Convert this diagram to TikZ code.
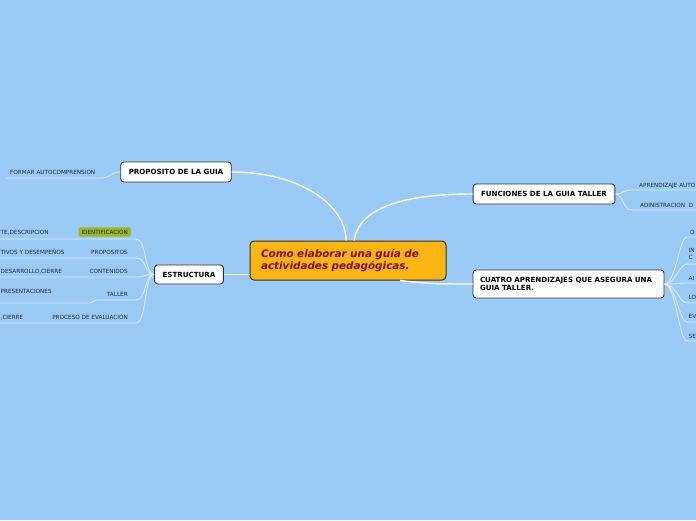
\documentclass[tikz,border=0pt]{standalone}
\usepackage{fontspec}
\setmainfont{DejaVu Sans}
\usetikzlibrary{positioning, calc}
\definecolor{sky}{RGB}{154,202,246}
\definecolor{gold}{RGB}{252,182,20}
\definecolor{wine}{RGB}{128,10,10}
\definecolor{ink}{RGB}{30,45,62}
\definecolor{olive}{RGB}{158,182,32}

\begin{document}
\begin{tikzpicture}[x=1pt, y=-1pt,
    box/.style={draw=black!80, fill=white, rounded corners=3pt, line width=0.9pt,
                minimum height=20pt, inner xsep=8pt, align=left,
                font=\bfseries\fontsize{7.1}{8.6}\selectfont},
    topicbox/.style={draw=black!80, fill=gold, rounded corners=4pt, line width=1pt,
                minimum height=39pt, text width=174pt, inner xsep=11pt, align=left,
                text=wine, font=\bfseries\itshape\fontsize{10.4}{11.5}\selectfont},
    leaf/.style={inner sep=0pt, text=ink, font=\fontsize{5.7}{7}\selectfont},
    hilite/.style={fill=olive, rounded corners=2pt, inner xsep=3pt, inner ysep=2.5pt},
    branch/.style={draw=white, line width=1.4pt},
    twig/.style={draw=white, draw opacity=0.6, line width=0.9pt},
]
\fill[sky, use as bounding box] (0,0) rectangle (696,520);

\node[topicbox] (topic) at (348,260.5) {Como elaborar una guía de\\actividades pedagógicas.};
\node[box] (purpose) at (176,172) {PROPOSITO DE LA GUIA};
\node[box, minimum height=19pt] (struct) at (189,274.5) {ESTRUCTURA};
\node[box] (roles) at (544,194) {FUNCIONES DE LA GUIA TALLER};
\node[box, text width=177pt, inner xsep=7pt, minimum height=28pt] (learn) at (568.5,284) {CUATRO APRENDIZAJES QUE ASEGURA UNA\\GUIA TALLER.};

\draw[branch] ([xshift=-2pt]topic.north) .. controls (346,205) and (300,172) .. (purpose.east);
\draw[branch] ([xshift=6pt]topic.north) .. controls (360,205) and (410,194) .. (roles.west);
\draw[branch] (struct.east) -- (struct.east -| topic.west);
\draw[branch] ([xshift=52pt]topic.south) .. controls (430,284) and (440,284) .. (learn.west);

\node[leaf, anchor=base west] (selfcomp) at (10,174) {FORMAR AUTOCOMPRENSION};
\coordinate (selfcompend) at (6,178);
\draw[twig] (purpose.west) .. controls (110,172) and (112,178) .. (100,178) -- (selfcompend);

\node[leaf, hilite, anchor=base east] (ident) at (131,234) {IDENTIFICACION};
\node[leaf, anchor=base west] (identsub) at (0.5,234) {TE,DESCRIPCION};
\node[leaf, anchor=base east] (aims) at (128,254) {PROPOSITOS};
\node[leaf, anchor=base west] (aimssub) at (0.5,254) {TIVOS Y DESEMPEÑOS};
\node[leaf, anchor=base east] (content) at (128,273) {CONTENIDOS};
\node[leaf, anchor=base west] (contentsub) at (0.5,273) {DESARROLLO,CIERRE};
\node[leaf, anchor=base east] (workshop) at (128,296) {TALLER};
\node[leaf, anchor=base west] (workshopsub) at (0.5,293) {PRESENTACIONES};
\node[leaf, anchor=base east] (assess) at (128,319) {PROCESO DE EVALUACION};
\node[leaf, anchor=base west] (assesssub) at (0.5,319) {,CIERRE};
\coordinate (identend) at (0,239);
\coordinate (aimsend) at (0,258);
\coordinate (contentend) at (0,277);
\coordinate (workshopend) at (0,303);
\coordinate (assessend) at (0,323);
\draw[twig] (struct.west) .. controls (144,274) and (147,239) .. (136,239) -- (identend);
\draw[twig] (struct.west) .. controls (144,274) and (147,258) .. (136,258) -- (aimsend);
\draw[twig] (struct.west) .. controls (144,274) and (147,277) .. (136,277) -- (contentend);
\draw[twig] (struct.west) .. controls (144,274) and (147,300) .. (136,300) -- (96,300)
    .. controls (93,300) and (93,303) .. (90,303) -- (workshopend);
\draw[twig] (struct.west) .. controls (144,274) and (147,323) .. (136,323) -- (assessend);

\node[leaf, anchor=base west] (selflearn) at (639,187) {APRENDIZAJE AUTO};
\node[leaf, anchor=base west] (admin) at (640,207) {ADINISTRACION\ \ D};
\coordinate (selflearnend) at (696,190);
\coordinate (adminend) at (696,210);
\draw[twig] (roles.east) .. controls (624,194) and (622,190) .. (632,190) -- (selflearnend);
\draw[twig] (roles.east) .. controls (624,194) and (622,210) .. (632,210) -- (adminend);

\node[leaf, anchor=base west] (lrn1) at (690,234) {O};
\node[leaf, anchor=west, align=left] (lrn2) at (688.5,253.5) {IN\\C};
\node[leaf, anchor=base west] (lrn3) at (688.5,280) {AI};
\node[leaf, anchor=base west] (lrn4) at (688.5,299) {LO};
\node[leaf, anchor=base west] (lrn5) at (688.5,318) {EV};
\node[leaf, anchor=base west] (lrn6) at (688.5,338) {SE};
\coordinate (lrn1end) at (696,237);
\coordinate (lrn2end) at (696,264);
\coordinate (lrn3end) at (696,283);
\coordinate (lrn4end) at (696,303);
\coordinate (lrn5end) at (696,322);
\coordinate (lrn6end) at (696,341);
\draw[twig] (learn.east) .. controls (676,284) and (679,237) .. (687,237) -- (lrn1end);
\draw[twig] (learn.east) .. controls (676,284) and (679,264) .. (687,264) -- (lrn2end);
\draw[twig] (learn.east) .. controls (676,284) and (679,283) .. (687,283) -- (lrn3end);
\draw[twig] (learn.east) .. controls (676,284) and (679,303) .. (687,303) -- (lrn4end);
\draw[twig] (learn.east) .. controls (676,284) and (679,322) .. (687,322) -- (lrn5end);
\draw[twig] (learn.east) .. controls (676,284) and (679,341) .. (687,341) -- (lrn6end);
\end{tikzpicture}
\end{document}
